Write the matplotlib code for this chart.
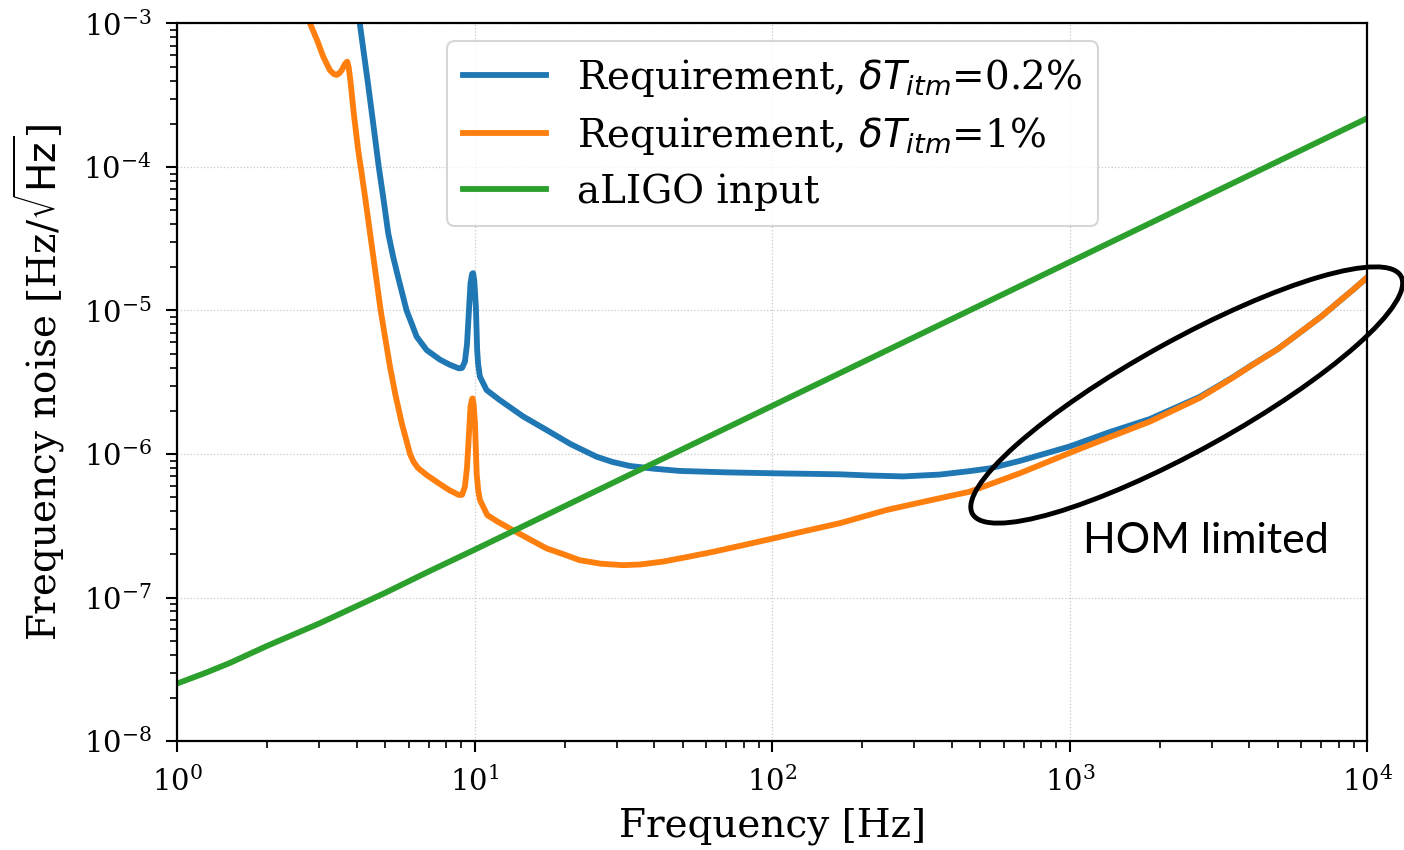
import matplotlib
matplotlib.use("Agg")
import matplotlib.pyplot as plt
from matplotlib.patches import Ellipse
from matplotlib.transforms import IdentityTransform

# ---------------- data ----------------
freq_blue = [4.0, 4.1, 4.37, 4.55, 4.75, 4.93, 5.11, 5.3, 5.5, 5.89, 6.12,
             6.37, 6.88, 7.62, 8.2, 8.83, 9.05, 9.25, 9.4, 9.49, 9.66, 9.78,
             9.86, 9.95, 10.07, 10.17, 10.25, 10.39, 10.94, 12.1, 14.5, 17.4,
             21.0, 25.6, 29.0, 33.2, 40.0, 48.8, 70.0, 100.5, 168, 212, 275,
             365, 460, 537, 678, 1000, 1358, 1853, 2729, 3524, 4018, 5000,
             5916, 7000, 8000, 9000, 10000]
noise_blue = [1.5e-3, 1.0e-3, 3.8e-4, 2.0e-4, 1.0e-4, 5.9e-5, 3.45e-5,
              2.4e-5, 1.75e-5, 1.0e-5, 8.15e-6, 6.56e-6, 5.3e-6, 4.55e-6,
              4.2e-6, 3.95e-6, 3.98e-6, 4.4e-6, 5.8e-6, 8.15e-6, 1.55e-5,
              1.8e-5, 1.82e-5, 1.6e-5, 1.06e-5, 5.31e-6, 4.2e-6, 3.46e-6,
              2.79e-6, 2.38e-6, 1.83e-6, 1.47e-6, 1.17e-6, 9.58e-7, 8.8e-7,
              8.25e-7, 7.9e-7, 7.62e-7, 7.45e-7, 7.34e-7, 7.22e-7, 7.08e-7,
              6.98e-7, 7.19e-7, 7.6e-7, 7.94e-7, 8.95e-7, 1.13e-6, 1.42e-6,
              1.75e-6, 2.5e-6, 3.42e-6, 4.08e-6, 5.4e-6, 7.0e-6, 9.1e-6,
              1.15e-5, 1.41e-5, 1.71e-5]

freq_orange = [2.7, 2.79, 2.95, 3.09, 3.25, 3.35, 3.43, 3.5, 3.57, 3.65,
               3.72, 3.76, 3.81, 3.92, 4.05, 4.13, 4.28, 4.44, 4.62, 4.82,
               5.0, 5.18, 5.4, 5.67, 6.05, 6.2, 6.43, 6.88, 7.62, 8.2, 8.83,
               9.05, 9.25, 9.4, 9.49, 9.66, 9.78, 9.82, 9.9, 10.0, 10.13,
               10.25, 10.39, 11.0, 12.0, 13.4, 15.3, 17.4, 20.0, 22.5, 26.5,
               31.5, 36.0, 42.9, 52.0, 63.1, 80.0, 100.5, 130, 168, 241.6,
               330, 460, 678, 1000, 1358, 1853, 2729, 3524, 4018, 5000, 5916,
               7000, 8000, 9000, 10000]
noise_orange = [1.15e-3, 1.0e-3, 7.6e-4, 5.87e-4, 4.74e-4, 4.45e-4, 4.38e-4,
                4.5e-4, 4.74e-4, 5.2e-4, 5.42e-4, 5.0e-4, 4.04e-4, 2.3e-4,
                1.31e-4, 1.0e-4, 6.0e-5, 3.45e-5, 1.9e-5, 1.0e-5, 6.3e-6,
                4.06e-6, 2.6e-6, 1.65e-6, 1.0e-6, 8.9e-7, 8.0e-7, 7.14e-7,
                6.18e-7, 5.6e-7, 5.18e-7, 5.2e-7, 5.91e-7, 8.0e-7, 1.12e-6,
                2.14e-6, 2.42e-6, 2.44e-6, 2.2e-6, 1.64e-6, 7.34e-7, 5.6e-7,
                4.79e-7, 3.75e-7, 3.35e-7, 2.95e-7, 2.54e-7, 2.2e-7, 1.99e-7,
                1.82e-7, 1.72e-7, 1.68e-7, 1.7e-7, 1.78e-7, 1.92e-7, 2.08e-7,
                2.32e-7, 2.58e-7, 2.92e-7, 3.29e-7, 4.07e-7, 4.7e-7, 5.46e-7,
                7.34e-7, 1.02e-6, 1.31e-6, 1.68e-6, 2.46e-6, 3.4e-6, 4.06e-6,
                5.4e-6, 7.0e-6, 9.1e-6, 1.15e-5, 1.41e-5, 1.71e-5]

freq_green = [1, 1.25, 1.5, 2, 3, 5, 7, 10, 100, 1000, 10000]
noise_green = [2.52e-8, 3.0e-8, 3.5e-8, 4.6e-8, 6.6e-8, 1.08e-7, 1.52e-7,
               2.16e-7, 2.17e-6, 2.18e-5, 2.19e-4]

labels = [r'Requirement, $\delta T_{itm}$=0.2%',
          r'Requirement, $\delta T_{itm}$=1%',
          'aLIGO input']
colors = ['#1f77b4', '#ff7f0e', '#2ca02c']

# ---------------- style ----------------
plt.rcParams['font.family'] = ['DejaVu Serif']
plt.rcParams['mathtext.fontset'] = 'dejavusans'

fig = plt.figure(figsize=(14.04, 8.5), dpi=100)
ax = fig.add_axes([0.1264, 0.1282, 0.8476, 0.8442])

ax.plot(freq_blue, noise_blue, color=colors[0], lw=4.2, label=labels[0])
ax.plot(freq_orange, noise_orange, color=colors[1], lw=4.2, label=labels[1])
ax.plot(freq_green, noise_green, color=colors[2], lw=4.2, label=labels[2])

ax.set_xscale('log')
ax.set_yscale('log')
ax.set_xlim(1, 1e4)
ax.set_ylim(1e-8, 1e-3)

ax.grid(True, which='major', ls=':', color='#c8c8c8', lw=0.9)
ax.tick_params(which='major', length=8, width=1.5, labelsize=21, pad=10.5)
ax.tick_params(which='minor', length=5, width=1.2)
for sp in ax.spines.values():
    sp.set_linewidth(1.6)

ax.set_xlabel('Frequency [Hz]', fontsize=28, labelpad=7)
ax.set_ylabel(r'Frequency noise [Hz/$\sqrt{\mathrm{Hz}}$]', fontsize=28,
              labelpad=12)

leg = ax.legend(loc='upper center', fontsize=28, handlelength=2.15,
                labelspacing=0.42, framealpha=0.8, borderaxespad=0.45)
leg.get_frame().set_linewidth(1.5)
leg.get_frame().set_edgecolor('0.8')

# annotation: ellipse and text (figure pixel coordinates)
ell = Ellipse((1186.7, 455), width=490, height=110, angle=29,
              fill=False, edgecolor='black', lw=3.5,
              transform=IdentityTransform(), clip_on=False)
fig.add_artist(ell)
fig.text(1083 / 1404, (850 - 553) / 850, 'HOM limited', fontsize=31,
         family='Lato', va='baseline', ha='left', color='black')

fig.savefig('out.png', dpi=100)
